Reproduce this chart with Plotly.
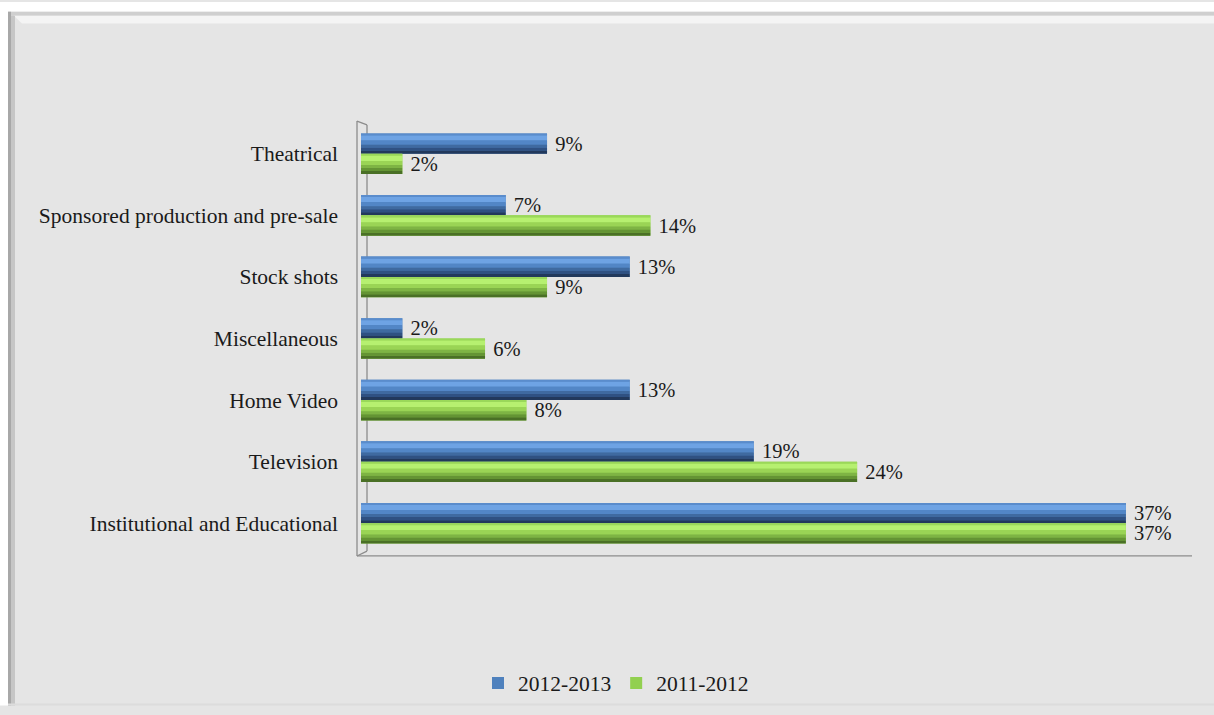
import plotly.graph_objects as go

categories = ["Theatrical", "Sponsored production and pre-sale", "Stock shots",
              "Miscellaneous", "Home Video", "Television", "Institutional and Educational"]
series_names = ["2012-2013", "2011-2012"]
values_2012_2013 = [9, 7, 13, 2, 13, 19, 37]
values_2011_2012 = [2, 14, 9, 6, 8, 24, 37]
colors = ["#4f81bd", "#92d050"]
# cylinder shading bands (fraction start, fraction end, colour) per series
shade_bands = [
    [(0.0, 0.1, "#5a8ccc"), (0.1, 0.35, "#6ea3e4"), (0.35, 0.55, "#5286c6"),
     (0.55, 0.7, "#3f6aa0"), (0.7, 0.85, "#2f5182"), (0.85, 1.0, "#22395c")],
    [(0.0, 0.1, "#9ad85a"), (0.1, 0.35, "#b6f070"), (0.35, 0.55, "#9ad455"),
     (0.55, 0.7, "#7eb444"), (0.7, 0.85, "#649434"), (0.85, 1.0, "#4a7026")],
]

W, H = 1214, 715
L, R, T, B = 361, 1192, 123, 561
PW, PH = R - L, B - T


def px(x):
    return (x - L) / PW


def py(y):
    return 1 - (y - T) / PH


FONT = "Liberation Serif, Times New Roman, serif"
FS = 21.5
LFS = 20.5
BW = 0.33  # bar thickness (category units)

fig = go.Figure()
offsets = [-BW, 0]
for name, vals, c, bands, off in zip(series_names, [values_2012_2013, values_2011_2012], colors,
                                     shade_bands, offsets):
    fig.add_trace(go.Bar(
        y=categories, x=vals, name=name, orientation="h",
        width=BW, offset=off,
        marker=dict(color=c, line=dict(width=0)),
        text=[f" {v}%" for v in vals], textposition="outside", constraintext="none",
        textfont=dict(family=FONT, size=LFS, color="#1a1a1a"),
        cliponaxis=False,
    ))
    for frac0, frac1, col in bands:
        fig.add_trace(go.Bar(
            y=categories, x=vals, orientation="h", showlegend=False, hoverinfo="skip",
            width=BW * (frac1 - frac0), offset=off + BW * frac0,
            marker=dict(color=col, line=dict(width=0)),
        ))

shapes = []
shapes.append(dict(type="rect", xref="paper", yref="paper", x0=px(0), x1=px(W), y0=py(0), y1=py(10),
                   fillcolor="white", line=dict(width=0), layer="below"))
shapes.append(dict(type="rect", xref="paper", yref="paper", x0=px(0), x1=px(8), y0=py(0), y1=py(H),
                   fillcolor="white", line=dict(width=0), layer="below"))
shapes.append(dict(type="rect", xref="paper", yref="paper", x0=px(8), x1=px(W), y0=py(10), y1=py(14),
                   fillcolor="#cfcfcf", line=dict(width=0), layer="below"))
shapes.append(dict(type="path", xref="paper", yref="paper",
                   path=f"M {px(14)} {py(14)} L {px(W)} {py(14)} L {px(W)} {py(22)} L {px(22)} {py(22)} Z",
                   fillcolor="#f4f4f4", line=dict(width=0), layer="below"))
shapes.append(dict(type="rect", xref="paper", yref="paper", x0=px(8), x1=px(11), y0=py(10), y1=py(H),
                   fillcolor="#a8a8a8", line=dict(width=0), layer="below"))
shapes.append(dict(type="rect", xref="paper", yref="paper", x0=px(11), x1=px(15), y0=py(14), y1=py(H),
                   fillcolor="#c6c6c6", line=dict(width=0), layer="below"))
shapes.append(dict(type="rect", xref="paper", yref="paper", x0=px(8), x1=px(W), y0=py(713), y1=py(H),
                   fillcolor="#dcdcdc", line=dict(width=0), layer="below"))
axc = "#8c8c8c"
for (x0, y0, x1, y1) in [(357, 121, 357, 563), (357, 563, 1192, 563), (357, 121, 367, 125),
                         (367, 125, 367, 558), (357, 563, 367, 558)]:
    shapes.append(dict(type="line", xref="paper", yref="paper", x0=px(x0), y0=py(y0), x1=px(x1), y1=py(y1),
                       line=dict(color=axc, width=1.3), layer="below"))

fig.update_layout(
    width=W, height=H,
    margin=dict(l=L, r=W - R, t=T, b=H - B),
    paper_bgcolor="#e5e5e5", plot_bgcolor="rgba(0,0,0,0)",
    barmode="overlay",
    font=dict(family=FONT, size=FS, color="#1a1a1a"),
    shapes=shapes,
    showlegend=True,
    legend=dict(orientation="h", x=px(616), xanchor="center", y=py(692), yanchor="middle",
                font=dict(family=FONT, size=FS, color="#1a1a1a"), bgcolor="rgba(0,0,0,0)",
                itemwidth=30, tracegroupgap=0),
    xaxis=dict(range=[0, 40.2], showgrid=False, zeroline=False, showticklabels=False, showline=False),
    yaxis=dict(autorange="reversed", showgrid=False, zeroline=False, showline=False,
               ticklabelstandoff=22, tickfont=dict(family=FONT, size=FS, color="#1a1a1a")),
)

fig.write_html("out.html")
